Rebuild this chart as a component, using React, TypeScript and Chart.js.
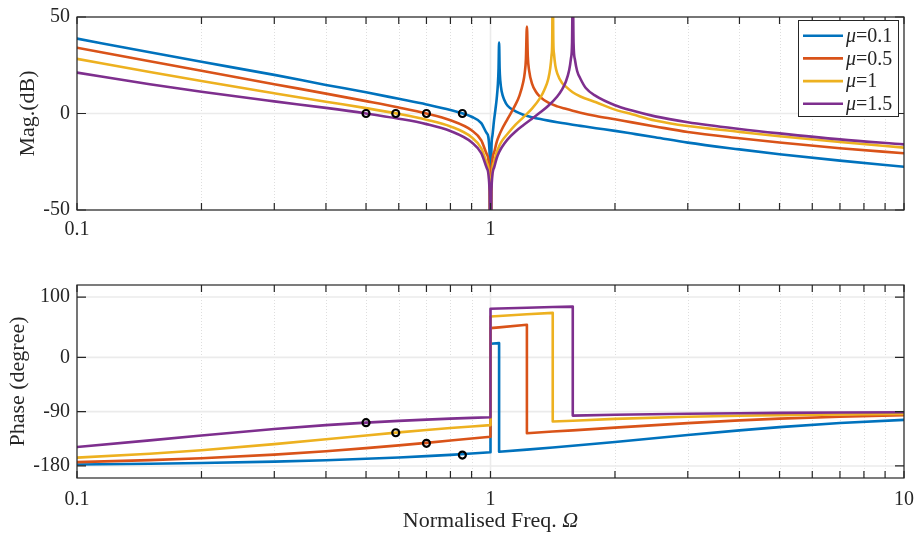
import React, { useEffect, useRef } from "react";
import { Chart, registerables } from "chart.js";

Chart.register(...registerables);

const FONT = '"Liberation Serif", "Times New Roman", Times, serif';
const TEXT = "#262626";

// ---- series meta ----
const MU_LABELS = ["0.1", "0.5", "1", "1.5"];
const COLORS = ["#0072BD", "#D95319", "#EDB120", "#7E2F8E"];

// ---- magnitude (dB), one frequency list per curve ----
const magFreqMu01 = [0.1, 0.15, 0.2, 0.3, 0.4, 0.5, 0.6, 0.7, 0.8, 0.9, 0.95, 0.98, 0.995, 1, 1.005, 1.01, 1.02, 1.028, 1.035, 1.042, 1.046, 1.049, 1.052, 1.056, 1.065, 1.08, 1.1, 1.15, 1.2, 1.26, 1.32, 1.38, 1.45, 1.52, 1.58, 1.65, 1.8, 2, 2.2, 2.5, 3, 4, 5, 7, 10];
const magMu01 = [38.8, 31.7, 26.8, 20.0, 14.8, 11.0, 7.6, 4.7, 1.8, -1.7, -5.0, -10.3, -20.5, -90, -18.9, -11.9, -3.4, 2.2, 7.6, 15.2, 23.6, 36.8, 23.5, 17.0, 11.1, 7.0, 4.0, 1.1, -0.6, -1.9, -2.9, -3.7, -4.5, -5.2, -5.8, -6.4, -7.6, -9.0, -10.4, -12.3, -15.1, -18.6, -21.1, -24.4, -27.6];

const magFreqMu05 = [0.1, 0.15, 0.2, 0.3, 0.4, 0.5, 0.6, 0.7, 0.8, 0.9, 0.95, 0.98, 0.995, 1, 1.005, 1.02, 1.035, 1.049, 1.065, 1.1, 1.15, 1.175, 1.2, 1.21, 1.218, 1.2247, 1.231, 1.24, 1.26, 1.29, 1.32, 1.38, 1.45, 1.52, 1.58, 1.65, 1.8, 2, 2.2, 2.5, 3, 4, 5, 7, 10];
const magMu05 = [34.1, 27.1, 22.2, 15.2, 10.3, 6.4, 3.1, 0.0, -3.5, -8.7, -13.9, -21.2, -32.9, -90, -32.6, -20.2, -14.8, -11.4, -8.3, -2.8, 4.7, 9.3, 16.3, 21.1, 28.2, 45.0, 29.5, 22.2, 15.5, 11.0, 8.5, 5.6, 3.7, 2.4, 1.4, 0.4, -1.3, -3.0, -4.6, -6.7, -9.6, -12.8, -15.0, -18.0, -20.6];

const magFreqMu1 = [0.1, 0.15, 0.2, 0.3, 0.4, 0.5, 0.6, 0.7, 0.8, 0.9, 0.95, 0.98, 0.995, 1, 1.005, 1.02, 1.035, 1.049, 1.065, 1.1, 1.15, 1.2, 1.26, 1.32, 1.35, 1.38, 1.395, 1.405, 1.41, 1.4142, 1.419, 1.424, 1.435, 1.45, 1.49, 1.52, 1.58, 1.65, 1.8, 2, 2.2, 2.5, 3, 4, 5, 7, 10];
const magMu1 = [28.3, 21.5, 16.8, 10.5, 6.1, 2.8, -0.2, -3.2, -6.7, -12.3, -18.0, -25.6, -37.5, -90, -37.4, -25.2, -20.1, -17.0, -14.3, -10.5, -5.8, -2.0, 2.5, 8.2, 12.3, 18.0, 23.6, 30.2, 37.0, 70, 37.0, 31.0, 24.8, 20.8, 15.8, 14.0, 11.0, 8.8, 5.8, 2.0, -0.4, -3.6, -6.5, -9.5, -11.8, -14.8, -17.7];

const magFreqMu15 = [0.1, 0.15, 0.2, 0.3, 0.4, 0.5, 0.6, 0.7, 0.8, 0.9, 0.95, 0.98, 0.995, 1, 1.005, 1.02, 1.035, 1.049, 1.065, 1.1, 1.15, 1.2, 1.26, 1.32, 1.38, 1.45, 1.49, 1.52, 1.55, 1.565, 1.575, 1.5811, 1.588, 1.6, 1.62, 1.65, 1.7, 1.8, 2, 2.2, 2.5, 3, 4, 5, 7, 10];
const magMu15 = [21.2, 15.2, 11.3, 6.3, 2.9, 0.0, -2.7, -5.5, -9.1, -14.9, -20.6, -28.4, -40.4, -90, -40.3, -28.1, -23.2, -20.1, -17.5, -13.4, -9.3, -6.1, -2.7, 0.6, 4.0, 8.8, 12.5, 16.3, 22.5, 28.4, 36.9, 70, 36.5, 28.0, 22.0, 18.0, 13.2, 9.0, 4.3, 1.5, -1.5, -4.5, -8.0, -10.3, -13.4, -16.0];

// ---- phase (degree) ----
const phaseFreq = [0.1, 0.15, 0.2, 0.3, 0.4, 0.5, 0.6, 0.7, 0.8, 0.9, 1, 1, 1.049, 1.049, 1.2247, 1.2247, 1.4142, 1.4142, 1.5811, 1.5811, 2, 3, 4, 5, 7, 10];
const phaseMu01 = [-177.6, -176.4, -175.2, -172.9, -170.5, -168.2, -166.0, -163.7, -161.6, -159.4, -157.4, 22.6, 23.6, -156.4, -153.0, -153.0, -149.5, -149.5, -146.6, -146.6, -140.2, -128.7, -121.0, -115.6, -108.9, -103.7];
const phaseMu05 = [-173.6, -170.4, -167.3, -161.3, -155.7, -150.5, -145.9, -141.7, -137.9, -134.5, -131.5, 48.5, 49.8, 49.8, 54.2, -125.8, -123.0, -123.0, -121.0, -121.0, -116.5, -109.0, -104.5, -101.5, -98.5, -96.0];
const phaseMu1 = [-166.3, -159.9, -154.0, -143.8, -135.7, -129.4, -124.3, -120.3, -117.1, -114.5, -112.3, 67.7, 68.7, 68.7, 71.5, 71.5, 73.8, -106.4, -105.0, -105.0, -102.0, -98.5, -96.7, -95.7, -94.8, -94.0];
const phaseMu15 = [-148.6, -137.6, -129.4, -118.7, -112.3, -108.2, -105.3, -103.2, -101.6, -100.3, -99.3, 80.7, 81.1, 81.1, 82.4, 82.4, 83.4, 83.4, 84.1, -96.5, -95.2, -93.5, -92.6, -92.1, -91.5, -91.1];

// ---- crossover markers ----
const markerFreq = [0.5, 0.59, 0.7, 0.855];
const markerMag = [0, 0, 0, 0];
const markerPhase = [-108.3, -125.0, -142.5, -162.0];

// ---- ticks ----
const magTicks = [-50, 0, 50];
const phaseTicks = [-180, -90, 0, 100];
const xLabelsTop = [0.1, 1];
const xLabelsBottom = [0.1, 1, 10];
const majorFreqGrid = [0.1, 1, 10];
const minorFreqGrid = [0.2, 0.3, 0.4, 0.5, 0.6, 0.7, 0.8, 0.9, 2, 3, 4, 5, 6, 7, 8, 9];

type Kind = "mag" | "phase";

function makePlugin(kind: Kind) {
  const isMag = kind === "mag";
  const yTicks = isMag ? magTicks : phaseTicks;
  return {
    id: "matlabDecor",
    beforeDatasetsDraw(chart: any) {
      const { ctx, chartArea: a, scales } = chart;
      const xs = scales.x;
      const ys = scales.y;
      ctx.save();
      ctx.strokeStyle = "#dedede";
      ctx.lineWidth = 1;
      ctx.setLineDash([1, 2]);
      for (const v of minorFreqGrid) {
        const px = Math.round(xs.getPixelForValue(v)) + 0.5;
        ctx.beginPath();
        ctx.moveTo(px, a.top);
        ctx.lineTo(px, a.bottom);
        ctx.stroke();
      }
      ctx.setLineDash([]);
      ctx.strokeStyle = "#ebebeb";
      ctx.lineWidth = 1.6;
      for (const v of majorFreqGrid) {
        const px = xs.getPixelForValue(v);
        ctx.beginPath();
        ctx.moveTo(px, a.top);
        ctx.lineTo(px, a.bottom);
        ctx.stroke();
      }
      for (const v of yTicks) {
        const py = ys.getPixelForValue(v);
        ctx.beginPath();
        ctx.moveTo(a.left, py);
        ctx.lineTo(a.right, py);
        ctx.stroke();
      }
      ctx.restore();
    },
    afterDatasetsDraw(chart: any) {
      const { ctx, chartArea: a, scales } = chart;
      const xs = scales.x;
      const ys = scales.y;
      ctx.save();
      ctx.strokeStyle = TEXT;
      ctx.lineWidth = 1.2;
      const allX = [...majorFreqGrid, ...minorFreqGrid];
      for (const v of allX) {
        const px = xs.getPixelForValue(v);
        ctx.beginPath();
        ctx.moveTo(px, a.bottom);
        ctx.lineTo(px, a.bottom - 7);
        ctx.moveTo(px, a.top);
        ctx.lineTo(px, a.top + 7);
        ctx.stroke();
      }
      for (const v of yTicks) {
        const py = ys.getPixelForValue(v);
        ctx.beginPath();
        ctx.moveTo(a.left, py);
        ctx.lineTo(a.left + 9, py);
        ctx.moveTo(a.right, py);
        ctx.lineTo(a.right - 9, py);
        ctx.stroke();
      }
      ctx.strokeRect(a.left, a.top, a.right - a.left, a.bottom - a.top);
      ctx.restore();
    },
    afterDraw(chart: any) {
      const { ctx, chartArea: a } = chart;
      ctx.save();
      ctx.fillStyle = TEXT;
      ctx.font = `22px ${FONT}`;
      ctx.textAlign = "center";
      ctx.textBaseline = "alphabetic";
      ctx.save();
      ctx.translate(isMag ? 34 : 23.5, (a.top + a.bottom) / 2);
      ctx.rotate(-Math.PI / 2);
      ctx.fillText(isMag ? "Mag.(dB)" : "Phase (degree)", 0, 0);
      ctx.restore();

      if (!isMag) {
        const s1 = "Normalised Freq. ";
        const s2 = "Ω";
        ctx.font = `22px ${FONT}`;
        const w1 = ctx.measureText(s1).width;
        ctx.font = `italic 22px ${FONT}`;
        const w2 = ctx.measureText(s2).width;
        const cx = (a.left + a.right) / 2;
        const start = cx - (w1 + w2) / 2;
        ctx.textAlign = "left";
        ctx.font = `22px ${FONT}`;
        ctx.fillText(s1, start, 259);
        ctx.font = `italic 22px ${FONT}`;
        ctx.fillText(s2, start + w1, 259);
      } else {
        const lx = 798.5, ly = 20.5, lw = 100, lh = 96;
        ctx.fillStyle = "#ffffff";
        ctx.fillRect(lx, ly, lw, lh);
        ctx.strokeStyle = TEXT;
        ctx.lineWidth = 1;
        ctx.strokeRect(lx, ly, lw, lh);
        for (let i = 0; i < MU_LABELS.length; i++) {
          const y = 35.7 + i * 22.7;
          ctx.strokeStyle = COLORS[i];
          ctx.lineWidth = 2.6;
          ctx.beginPath();
          ctx.moveTo(803, y);
          ctx.lineTo(843, y);
          ctx.stroke();
          ctx.fillStyle = TEXT;
          ctx.textAlign = "left";
          ctx.textBaseline = "middle";
          ctx.font = `italic 20px ${FONT}`;
          ctx.fillText("μ", 846, y + 1);
          const wm = ctx.measureText("μ").width;
          ctx.font = `20px ${FONT}`;
          ctx.fillText("=" + MU_LABELS[i], 846 + wm, y + 1);
        }
      }
      ctx.restore();
    },
  };
}

function makeConfig(kind: Kind): any {
  const isMag = kind === "mag";
  const freqs = isMag ? [magFreqMu01, magFreqMu05, magFreqMu1, magFreqMu15] : [phaseFreq, phaseFreq, phaseFreq, phaseFreq];
  const series = isMag ? [magMu01, magMu05, magMu1, magMu15] : [phaseMu01, phaseMu05, phaseMu1, phaseMu15];
  const yTicks = isMag ? magTicks : phaseTicks;
  const xLabels = isMag ? xLabelsTop : xLabelsBottom;
  const markerY = isMag ? markerMag : markerPhase;

  const datasets: any[] = series.map((vals, i) => ({
    label: "μ=" + MU_LABELS[i],
    data: vals.map((y, k) => ({ x: freqs[i][k], y })),
    borderColor: COLORS[i],
    backgroundColor: COLORS[i],
    borderWidth: 2.6,
    pointRadius: 0,
    pointHoverRadius: 0,
    fill: false,
    tension: 0,
    cubicInterpolationMode: isMag ? "monotone" : "default",
    borderJoinStyle: "round",
    borderCapStyle: "round",
    order: 4 - i,
  }));
  datasets.push({
    label: "markers",
    data: markerFreq.map((x, k) => ({ x, y: markerY[k] })),
    showLine: false,
    pointRadius: 3.5,
    pointHoverRadius: 3.5,
    pointBorderWidth: 2.2,
    pointBorderColor: "#000000",
    pointBackgroundColor: "rgba(0,0,0,0)",
    borderColor: "#000000",
    backgroundColor: "rgba(0,0,0,0)",
    order: 0,
  });

  return {
    type: "line",
    data: { datasets },
    options: {
      responsive: false,
      animation: false,
      events: [],
      layout: { padding: { left: 0, right: 12, top: 17, bottom: 0 } },
      plugins: { legend: { display: false }, tooltip: { enabled: false }, title: { display: false } },
      scales: {
        x: {
          type: "logarithmic",
          min: 0.1,
          max: 10,
          grid: { display: false, drawTicks: false },
          border: { display: false },
          ticks: {
            font: { size: 20, family: FONT },
            color: TEXT,
            padding: isMag ? 8 : 10,
            autoSkip: false,
            maxRotation: 0,
            minRotation: 0,
            callback: (v: any) => String(v),
          },
          afterBuildTicks: (s: any) => {
            s.ticks = xLabels.map((v) => ({ value: v }));
          },
          afterFit: (s: any) => {
            s.height = 58;
            s.paddingLeft = 0;
            s.paddingRight = 0;
          },
        },
        y: {
          type: "linear",
          min: isMag ? -50 : -200,
          max: isMag ? 50 : 120,
          grid: { display: false, drawTicks: false },
          border: { display: false },
          ticks: {
            font: { size: 20, family: FONT },
            color: TEXT,
            padding: 7,
            callback: (v: any) => String(v),
          },
          afterBuildTicks: (s: any) => {
            s.ticks = yTicks.map((v) => ({ value: v }));
          },
          afterFit: (s: any) => {
            s.width = 77;
            s.paddingTop = 0;
            s.paddingBottom = 0;
          },
        },
      },
    },
    plugins: [makePlugin(kind)],
  };
}

export default function App() {
  const topRef = useRef<HTMLCanvasElement>(null);
  const botRef = useRef<HTMLCanvasElement>(null);

  useEffect(() => {
    Chart.defaults.font.family = FONT;
    const c1 = new Chart(topRef.current as HTMLCanvasElement, makeConfig("mag"));
    const c2 = new Chart(botRef.current as HTMLCanvasElement, makeConfig("phase"));
    return () => {
      c1.destroy();
      c2.destroy();
    };
  }, []);

  return (
    <div style={{ position: "absolute", left: 0, top: 0, width: 916, height: 536, background: "#ffffff" }}>
      <canvas ref={topRef} width={916} height={268} style={{ position: "absolute", left: 0, top: 0, display: "block" }} />
      <canvas ref={botRef} width={916} height={268} style={{ position: "absolute", left: 0, top: 268, display: "block" }} />
    </div>
  );
}
